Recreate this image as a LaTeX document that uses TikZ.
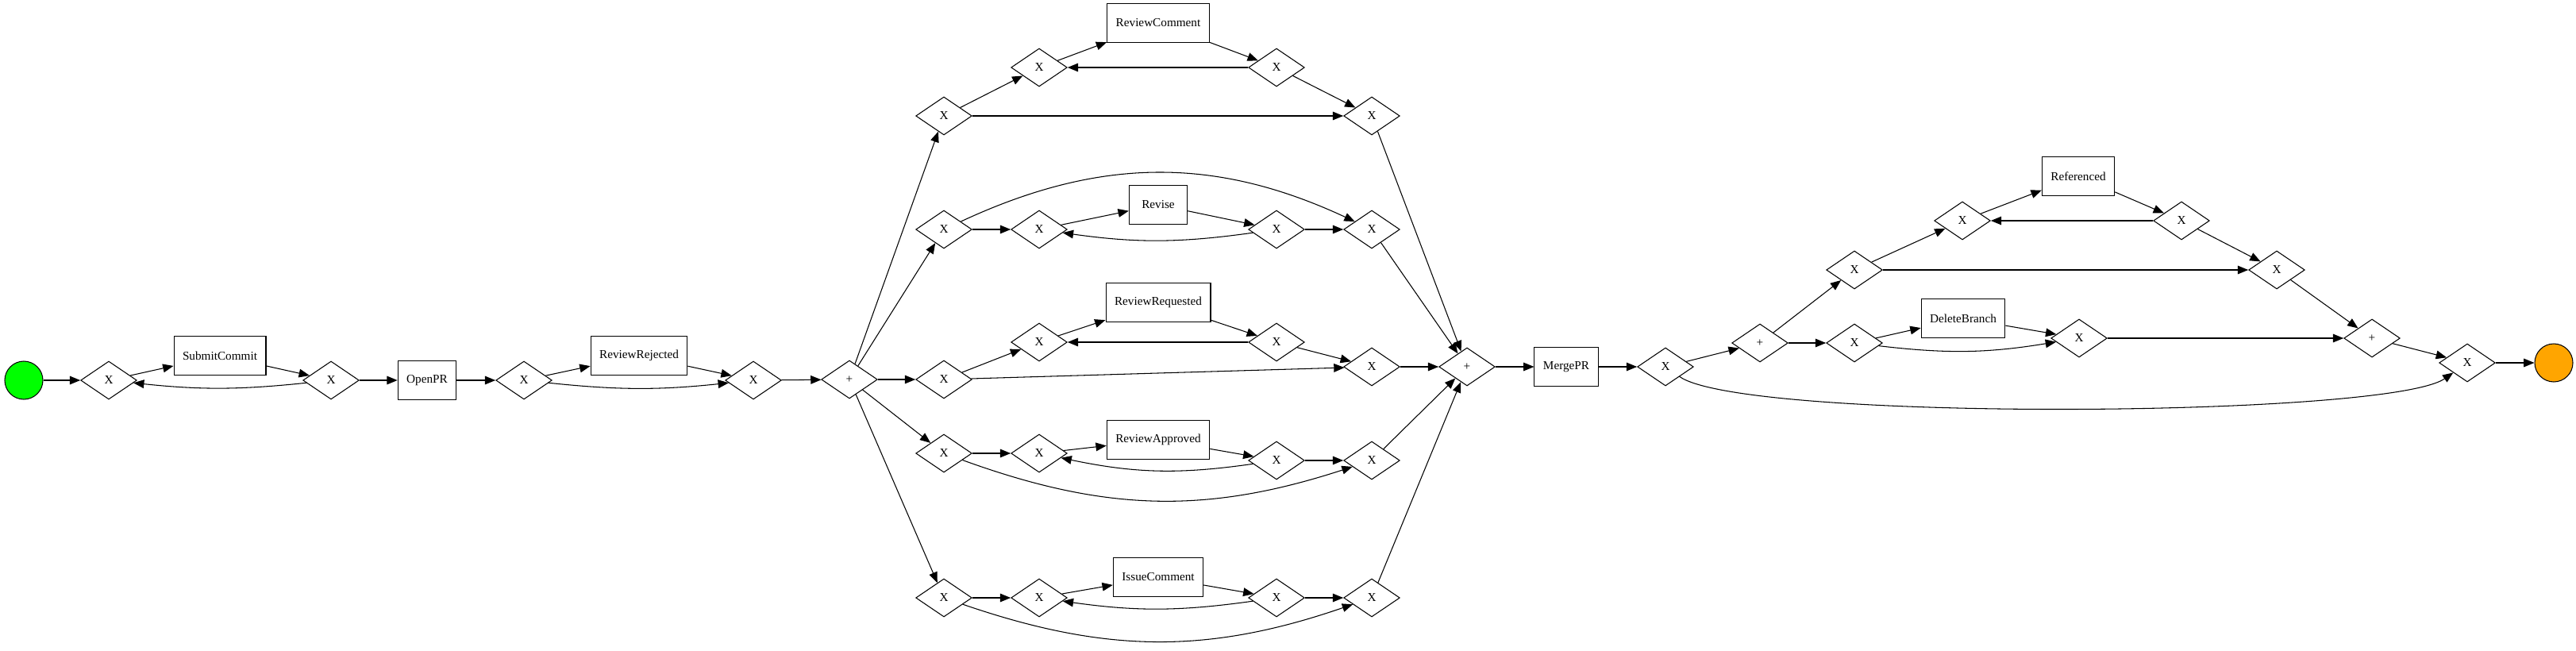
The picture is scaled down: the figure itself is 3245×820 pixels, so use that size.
\documentclass[tikz,border=0pt]{standalone}
\usepackage{fontspec}
\setmainfont{Liberation Serif}
\usetikzlibrary{shapes.geometric}
\usetikzlibrary{arrows.meta}
\definecolor{startgreen}{HTML}{00FF00}
\definecolor{endorange}{HTML}{FFA500}
\tikzset {
  >={Triangle[length=0.4cm, width=0.32cm]},
  % gateway diamonds (X and +)
  gate/.style = {draw, diamond, minimum width=2.12cm, minimum height=1.44cm,
    inner sep=0pt, line width=0.9pt, font=\fontsize{13}{15}\selectfont},
  % activity boxes
  task/.style = {draw, rectangle, minimum width=2.2cm, minimum height=1.46cm,
    inner xsep=0.33cm, line width=0.9pt, font=\fontsize{13}{15}\selectfont},
  % start and end events
  entry/.style={draw, circle, minimum size=1.44cm, fill=startgreen, line width=0.9pt},
  exit/.style={draw, circle, minimum size=1.44cm, fill=endorange, line width=0.9pt},
  % sequence flow
  flow/.style={->, line width=0.9pt},
}
\begin{document}
\begin{tikzpicture}[x=0.03cm, y=0.03cm]
  \useasboundingbox (0,0) rectangle (3245,-820);

  % opening the pull request
  \node[entry] (s) at (30,-479) {};
  \node[gate] (x1) at (137,-479) {X};
  \node[task] (sc) at (277,-448) {SubmitCommit};
  \node[gate] (x2) at (417,-479) {X};
  \node[task] (opr) at (538,-479) {OpenPR};
  \node[gate] (x3) at (660,-479) {X};
  \node[task] (rr) at (805,-448) {ReviewRejected};
  \node[gate] (x4) at (949,-479) {X};
  \node[gate] (and1) at (1070,-478) {+};

  \draw[flow] (s) -- (x1);
  \draw[flow] (x1) -- (sc);
  \draw[flow] (sc) -- (x2);
  \draw[flow] (x2) to[bend left=6] (x1);
  \draw[flow] (x2) -- (opr);
  \draw[flow] (opr) -- (x3);
  \draw[flow] (x3) -- (rr);
  \draw[flow] (rr) -- (x4);
  \draw[flow] (x3) to[bend right=6] (x4);
  \draw[flow] (x4) -- (and1);

  % review comments
  \node[gate] (a1) at (1189,-146) {X};
  \node[gate] (a2) at (1309,-85) {X};
  \node[task] (rc) at (1459,-29) {ReviewComment};
  \node[gate] (a3) at (1608,-85) {X};
  \node[gate] (a4) at (1728,-146) {X};

  \draw[flow] (a1) -- (a2);
  \draw[flow] (a2) -- (rc);
  \draw[flow] (rc) -- (a3);
  \draw[flow] (a3) -- (a2);
  \draw[flow] (a3) -- (a4);
  \draw[flow] (a1) -- (a4);

  % revisions
  \node[gate] (b1) at (1189,-289) {X};
  \node[gate] (b2) at (1309,-289) {X};
  \node[task] (rv) at (1459,-258) {Revise};
  \node[gate] (b3) at (1608,-289) {X};
  \node[gate] (b4) at (1728,-289) {X};

  \draw[flow] (b1) -- (b2);
  \draw[flow] (b2) -- (rv);
  \draw[flow] (rv) -- (b3);
  \draw[flow] (b3) to[bend left=8] (b2);
  \draw[flow] (b3) -- (b4);
  \draw[flow] (b1) to[bend left=25] (b4);

  % review requests
  \node[gate] (c1) at (1189,-478) {X};
  \node[gate] (c2) at (1309,-431) {X};
  \node[task] (rq) at (1459,-381) {ReviewRequested};
  \node[gate] (c3) at (1608,-431) {X};
  \node[gate] (c4) at (1728,-462) {X};

  \draw[flow] (c1) -- (c2);
  \draw[flow] (c2) -- (rq);
  \draw[flow] (rq) -- (c3);
  \draw[flow] (c3) -- (c2);
  \draw[flow] (c3) -- (c4);
  \draw[flow] (c1) -- (c4);

  % approvals
  \node[gate] (d1) at (1189,-571) {X};
  \node[gate] (d2) at (1309,-571) {X};
  \node[task] (ra) at (1459,-554) {ReviewApproved};
  \node[gate] (d3) at (1608,-580) {X};
  \node[gate] (d4) at (1728,-580) {X};

  \draw[flow] (d1) -- (d2);
  \draw[flow] (d2) -- (ra);
  \draw[flow] (ra) -- (d3);
  \draw[flow] (d3) to[bend left=10] (d2);
  \draw[flow] (d3) -- (d4);
  \draw[flow] (d1) to[bend right=19] (d4);

  % issue comments
  \node[gate] (e1) at (1189,-753) {X};
  \node[gate] (e2) at (1309,-753) {X};
  \node[task] (ic) at (1459,-727) {IssueComment};
  \node[gate] (e3) at (1608,-753) {X};
  \node[gate] (e4) at (1728,-753) {X};

  \draw[flow] (e1) -- (e2);
  \draw[flow] (e2) -- (ic);
  \draw[flow] (ic) -- (e3);
  \draw[flow] (e3) to[bend left=8] (e2);
  \draw[flow] (e3) -- (e4);
  \draw[flow] (e1) to[bend right=19] (e4);

  % parallel split and join
  \node[gate] (and2) at (1848,-462) {+};
  \draw[flow] (and1) -- (a1);
  \draw[flow] (and1) -- (b1);
  \draw[flow] (and1) -- (c1);
  \draw[flow] (and1) -- (d1);
  \draw[flow] (and1) -- (e1);
  \draw[flow] (a4) -- (and2);
  \draw[flow] (b4) -- (and2);
  \draw[flow] (c4) -- (and2);
  \draw[flow] (d4) -- (and2);
  \draw[flow] (e4) -- (and2);

  % merging and clean up
  \node[task] (mpr) at (1973,-462) {MergePR};
  \node[gate] (x5) at (2098,-462) {X};
  \node[gate] (and3) at (2217,-432) {+};
  \node[gate] (f1) at (2336,-340) {X};
  \node[gate] (f2) at (2472,-278) {X};
  \node[task] (ref) at (2618,-222) {Referenced};
  \node[gate] (f3) at (2748,-278) {X};
  \node[gate] (f4) at (2868,-340) {X};
  \node[gate] (g1) at (2336,-432) {X};
  \node[task] (db) at (2473,-401) {DeleteBranch};
  \node[gate] (g2) at (2619,-426) {X};
  \node[gate] (and4) at (2988,-426) {+};
  \node[gate] (x6) at (3108,-457) {X};
  \node[exit] (t) at (3217,-457) {};

  \draw[flow] (and2) -- (mpr);
  \draw[flow] (mpr) -- (x5);
  \draw[flow] (x5) -- (and3);
  \draw[flow] (and3) -- (f1);
  \draw[flow] (and3) -- (g1);
  \draw[flow] (f1) -- (f2);
  \draw[flow] (f2) -- (ref);
  \draw[flow] (ref) -- (f3);
  \draw[flow] (f3) -- (f2);
  \draw[flow] (f3) -- (f4);
  \draw[flow] (f1) -- (f4);
  \draw[flow] (f4) -- (and4);
  \draw[flow] (g1) -- (db);
  \draw[flow] (db) -- (g2);
  \draw[flow] (g1) to[bend right=8] (g2);
  \draw[flow] (g2) -- (and4);
  \draw[flow] (and4) -- (x6);
  \draw[flow] (x5) to[out=-35, in=-145, looseness=0.26] (x6);
  \draw[flow] (x6) -- (t);
\end{tikzpicture}
\end{document}
